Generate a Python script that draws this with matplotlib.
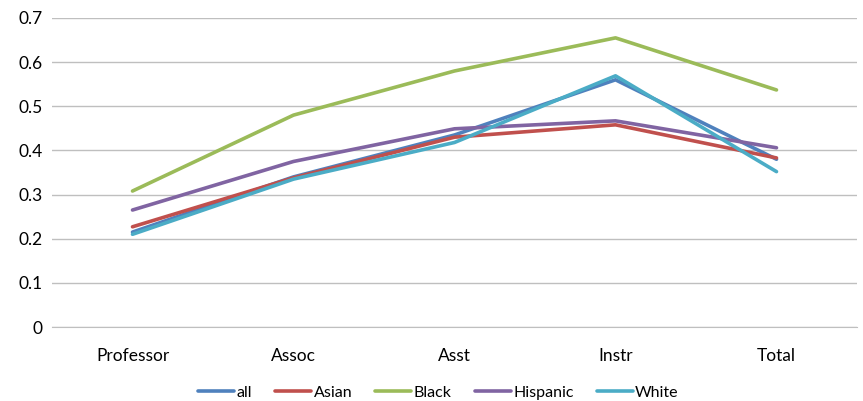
import matplotlib
matplotlib.use("Agg")
import matplotlib.pyplot as plt
import numpy as np

plt.rcParams["font.family"] = ["Lato", "DejaVu Sans"]

categories = ["Professor", "Assoc", "Asst", "Instr", "Total"]
series_names = ["all", "Asian", "Black", "Hispanic", "White"]
all_vals = [0.215, 0.34, 0.435, 0.56, 0.38]
asian_vals = [0.227, 0.338, 0.43, 0.458, 0.383]
black_vals = [0.308, 0.48, 0.58, 0.655, 0.537]
hispanic_vals = [0.265, 0.375, 0.449, 0.467, 0.406]
white_vals = [0.21, 0.335, 0.418, 0.569, 0.352]
colors = ["#4F81BD", "#C0504D", "#9BBB59", "#8064A2", "#4BACC6"]
y_ticks = [0, 0.1, 0.2, 0.3, 0.4, 0.5, 0.6, 0.7]

fig = plt.figure(figsize=(8.63, 4.01), dpi=100)
ax = fig.add_axes([52 / 863, 1 - 327 / 401, 805 / 863, 309 / 401])

x = np.arange(len(categories))
for name, vals, c in zip(series_names,
                         [all_vals, asian_vals, black_vals, hispanic_vals, white_vals],
                         colors):
    ax.plot(x, vals, color=c, lw=2.6, label=name, solid_capstyle="round")

ax.set_xlim(-0.5, len(categories) - 0.5)
ax.set_ylim(0, 0.7)
ax.set_yticks(y_ticks)
ax.set_yticklabels(["0" if v == 0 else f"{v:.1f}" for v in y_ticks])
ax.set_xticks(x)
ax.set_xticklabels(categories)
ax.yaxis.grid(True, color="#BFBFBF", lw=1)
ax.set_axisbelow(True)
for s in ["top", "right", "left"]:
    ax.spines[s].set_visible(False)
ax.spines["bottom"].set_color("#BFBFBF")
ax.tick_params(axis="both", length=0, labelsize=12.5, colors="#000000")
ax.tick_params(axis="y", pad=7)
ax.tick_params(axis="x", pad=15)

fig.legend(loc="lower center", bbox_to_anchor=(0.508, -0.033), ncol=5, frameon=False,
           fontsize=11.5, handlelength=2.25, handletextpad=0.15, columnspacing=1.45)

fig.savefig("out.png", dpi=100)
